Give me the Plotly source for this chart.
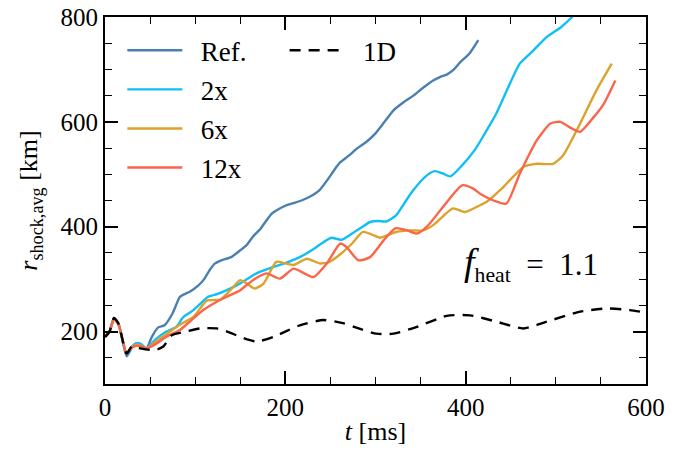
import plotly.graph_objects as go

t_ref = [0, 5, 10, 15, 24, 30, 35, 40, 46, 52, 59, 66, 75, 83, 89, 94, 103, 110, 116, 122, 129, 140, 150, 157, 164, 172, 179, 185, 190, 200, 209, 218, 227, 238, 249, 255, 261, 270, 280, 290, 300, 310, 320, 330, 342, 352, 364, 372, 379, 387, 394, 404, 414]
r_ref = [190, 200, 226, 215, 153, 170, 178, 175, 168, 190, 208, 212, 235, 266, 272, 276, 287, 300, 317, 330, 336, 342, 355, 365, 381, 395, 412, 425, 431, 440, 445, 450, 457, 470, 495, 510, 523, 535, 550, 562, 578, 600, 622, 636, 650, 664, 679, 686, 690, 700, 714, 730, 756]

t_2x = [0, 5, 10, 15, 24, 30, 35, 40, 46, 56, 68, 79, 87, 98, 105, 114, 125, 135, 150, 168, 183, 194, 205, 216, 231, 240, 251, 262, 274, 284, 294, 303, 312, 323, 332, 342, 357, 366, 374, 383, 396, 410, 422, 434, 447, 460, 475, 490, 506, 518, 524]
r_2x = [190, 200, 226, 215, 158, 172, 178, 176, 168, 185, 200, 209, 228, 241, 252, 266, 272, 279, 292, 311, 321, 327, 334, 342, 357, 368, 379, 375, 387, 398, 409, 411, 410, 422, 445, 470, 498, 506, 502, 496, 517, 546, 580, 616, 665, 711, 736, 762, 781, 800, 812]

t_6x = [0, 5, 10, 15, 24, 30, 35, 40, 46, 56, 68, 83, 98, 113, 128, 139, 150, 157, 166, 176, 190, 200, 209, 224, 238, 249, 262, 274, 286, 296, 305, 315, 323, 338, 353, 364, 375, 386, 399, 416, 423, 442, 464, 479, 497, 508, 527, 545, 562]
r_6x = [190, 200, 224, 213, 160, 170, 175, 173, 168, 180, 195, 213, 228, 259, 261, 279, 298, 292, 282, 292, 333, 330, 327, 339, 330, 333, 349, 368, 390, 385, 379, 385, 390, 393, 393, 403, 420, 435, 428, 441, 447, 476, 514, 520, 520, 536, 597, 660, 711]

t_12x = [0, 5, 10, 15, 24, 30, 35, 40, 46, 56, 68, 83, 96, 109, 124, 137, 150, 164, 179, 194, 209, 220, 231, 246, 261, 268, 281, 294, 309, 322, 335, 346, 357, 375, 396, 408, 416, 431, 445, 460, 479, 494, 505, 518, 527, 542, 553, 566]
r_12x = [190, 200, 224, 213, 160, 170, 173, 172, 168, 176, 190, 203, 222, 241, 257, 268, 279, 298, 311, 301, 320, 312, 304, 330, 368, 361, 336, 342, 374, 397, 393, 387, 400, 438, 479, 473, 463, 450, 444, 501, 565, 597, 600, 587, 581, 609, 634, 679]

t_1d = [0, 5, 10, 15, 24, 30, 39, 50, 58, 65, 74, 90, 105, 124, 137, 150, 168, 187, 200, 216, 242, 264, 283, 301, 320, 346, 379, 405, 434, 464, 490, 527, 556, 582, 600]
r_1d = [190, 200, 226, 215, 158, 172, 168, 165, 166, 172, 193, 200, 206, 206, 199, 190, 181, 190, 200, 212, 222, 216, 205, 196, 196, 209, 230, 231, 219, 206, 219, 238, 244, 241, 236]

series = [
    ("Ref.", t_ref, r_ref, "#4a7fb2"),
    ("2x", t_2x, r_2x, "#10bff5"),
    ("6x", t_6x, r_6x, "#dca22c"),
    ("12x", t_12x, r_12x, "#fb6549"),
]

FONT = "Liberation Serif"
PAD = "\u00a0\u00a0"
fig = go.Figure()
for i, (name, t, r, c) in enumerate(series):
    fig.add_trace(go.Scatter(x=t, y=r, mode="lines", name=PAD + name, legendgroup=f"g{i}",
                             line=dict(color=c, width=2.4, shape="spline", smoothing=0.6)))
fig.add_trace(go.Scatter(x=t_1d, y=r_1d, mode="lines", name=PAD + "1D", legend="legend2",
                         line=dict(color="black", width=2.4, dash="11px,8px", shape="spline", smoothing=0.6)))

axis_common = dict(showline=True, linecolor="black", linewidth=2, mirror="allticks",
                   ticks="inside", ticklen=13, tickwidth=1.5, tickcolor="black",
                   showgrid=False, zeroline=False, automargin=False,
                   tickfont=dict(family=FONT, size=25, color="black"),
                   minor=dict(ticks="inside", ticklen=7, tickwidth=1.2, tickcolor="black", dtick=50, showgrid=False))

fig.update_xaxes(range=[0, 600], tickvals=[0, 200, 400, 600],
                 title=dict(text="<i>t</i> [ms]", font=dict(family=FONT, size=26, color="black"), standoff=2),
                 **axis_common)
fig.update_yaxes(range=[100, 800], tickvals=[200, 400, 600, 800],
                 title=dict(text="<i>r</i><sub>shock,avg</sub> [km]", font=dict(family=FONT, size=26, color="black"), standoff=15),
                 **axis_common)

fig.add_annotation(x=472, y=328, xref="x", yref="y", showarrow=False,
                   text="<span style='font-size:38px'><i>f</i></span><sub>heat</sub>\u2002=\u20021.1",
                   font=dict(family=FONT, size=31, color="black"))

fig.update_layout(
    width=695, height=458,
    margin=dict(l=105, r=49, t=17, b=74),
    plot_bgcolor="white", paper_bgcolor="white",
    font=dict(family=FONT, size=26, color="black"),
    legend=dict(x=0.032, y=0.975, xanchor="left", yanchor="top", bgcolor="rgba(0,0,0,0)",
                font=dict(family=FONT, size=27), itemwidth=55, tracegroupgap=1, traceorder="grouped"),
    legend2=dict(x=0.332, y=0.975, xanchor="left", yanchor="top", bgcolor="rgba(0,0,0,0)",
                 font=dict(family=FONT, size=27), itemwidth=55),
)

fig.write_html("out.html", config={"displayModeBar": False},
               post_script="document.body.style.margin='0px';")
